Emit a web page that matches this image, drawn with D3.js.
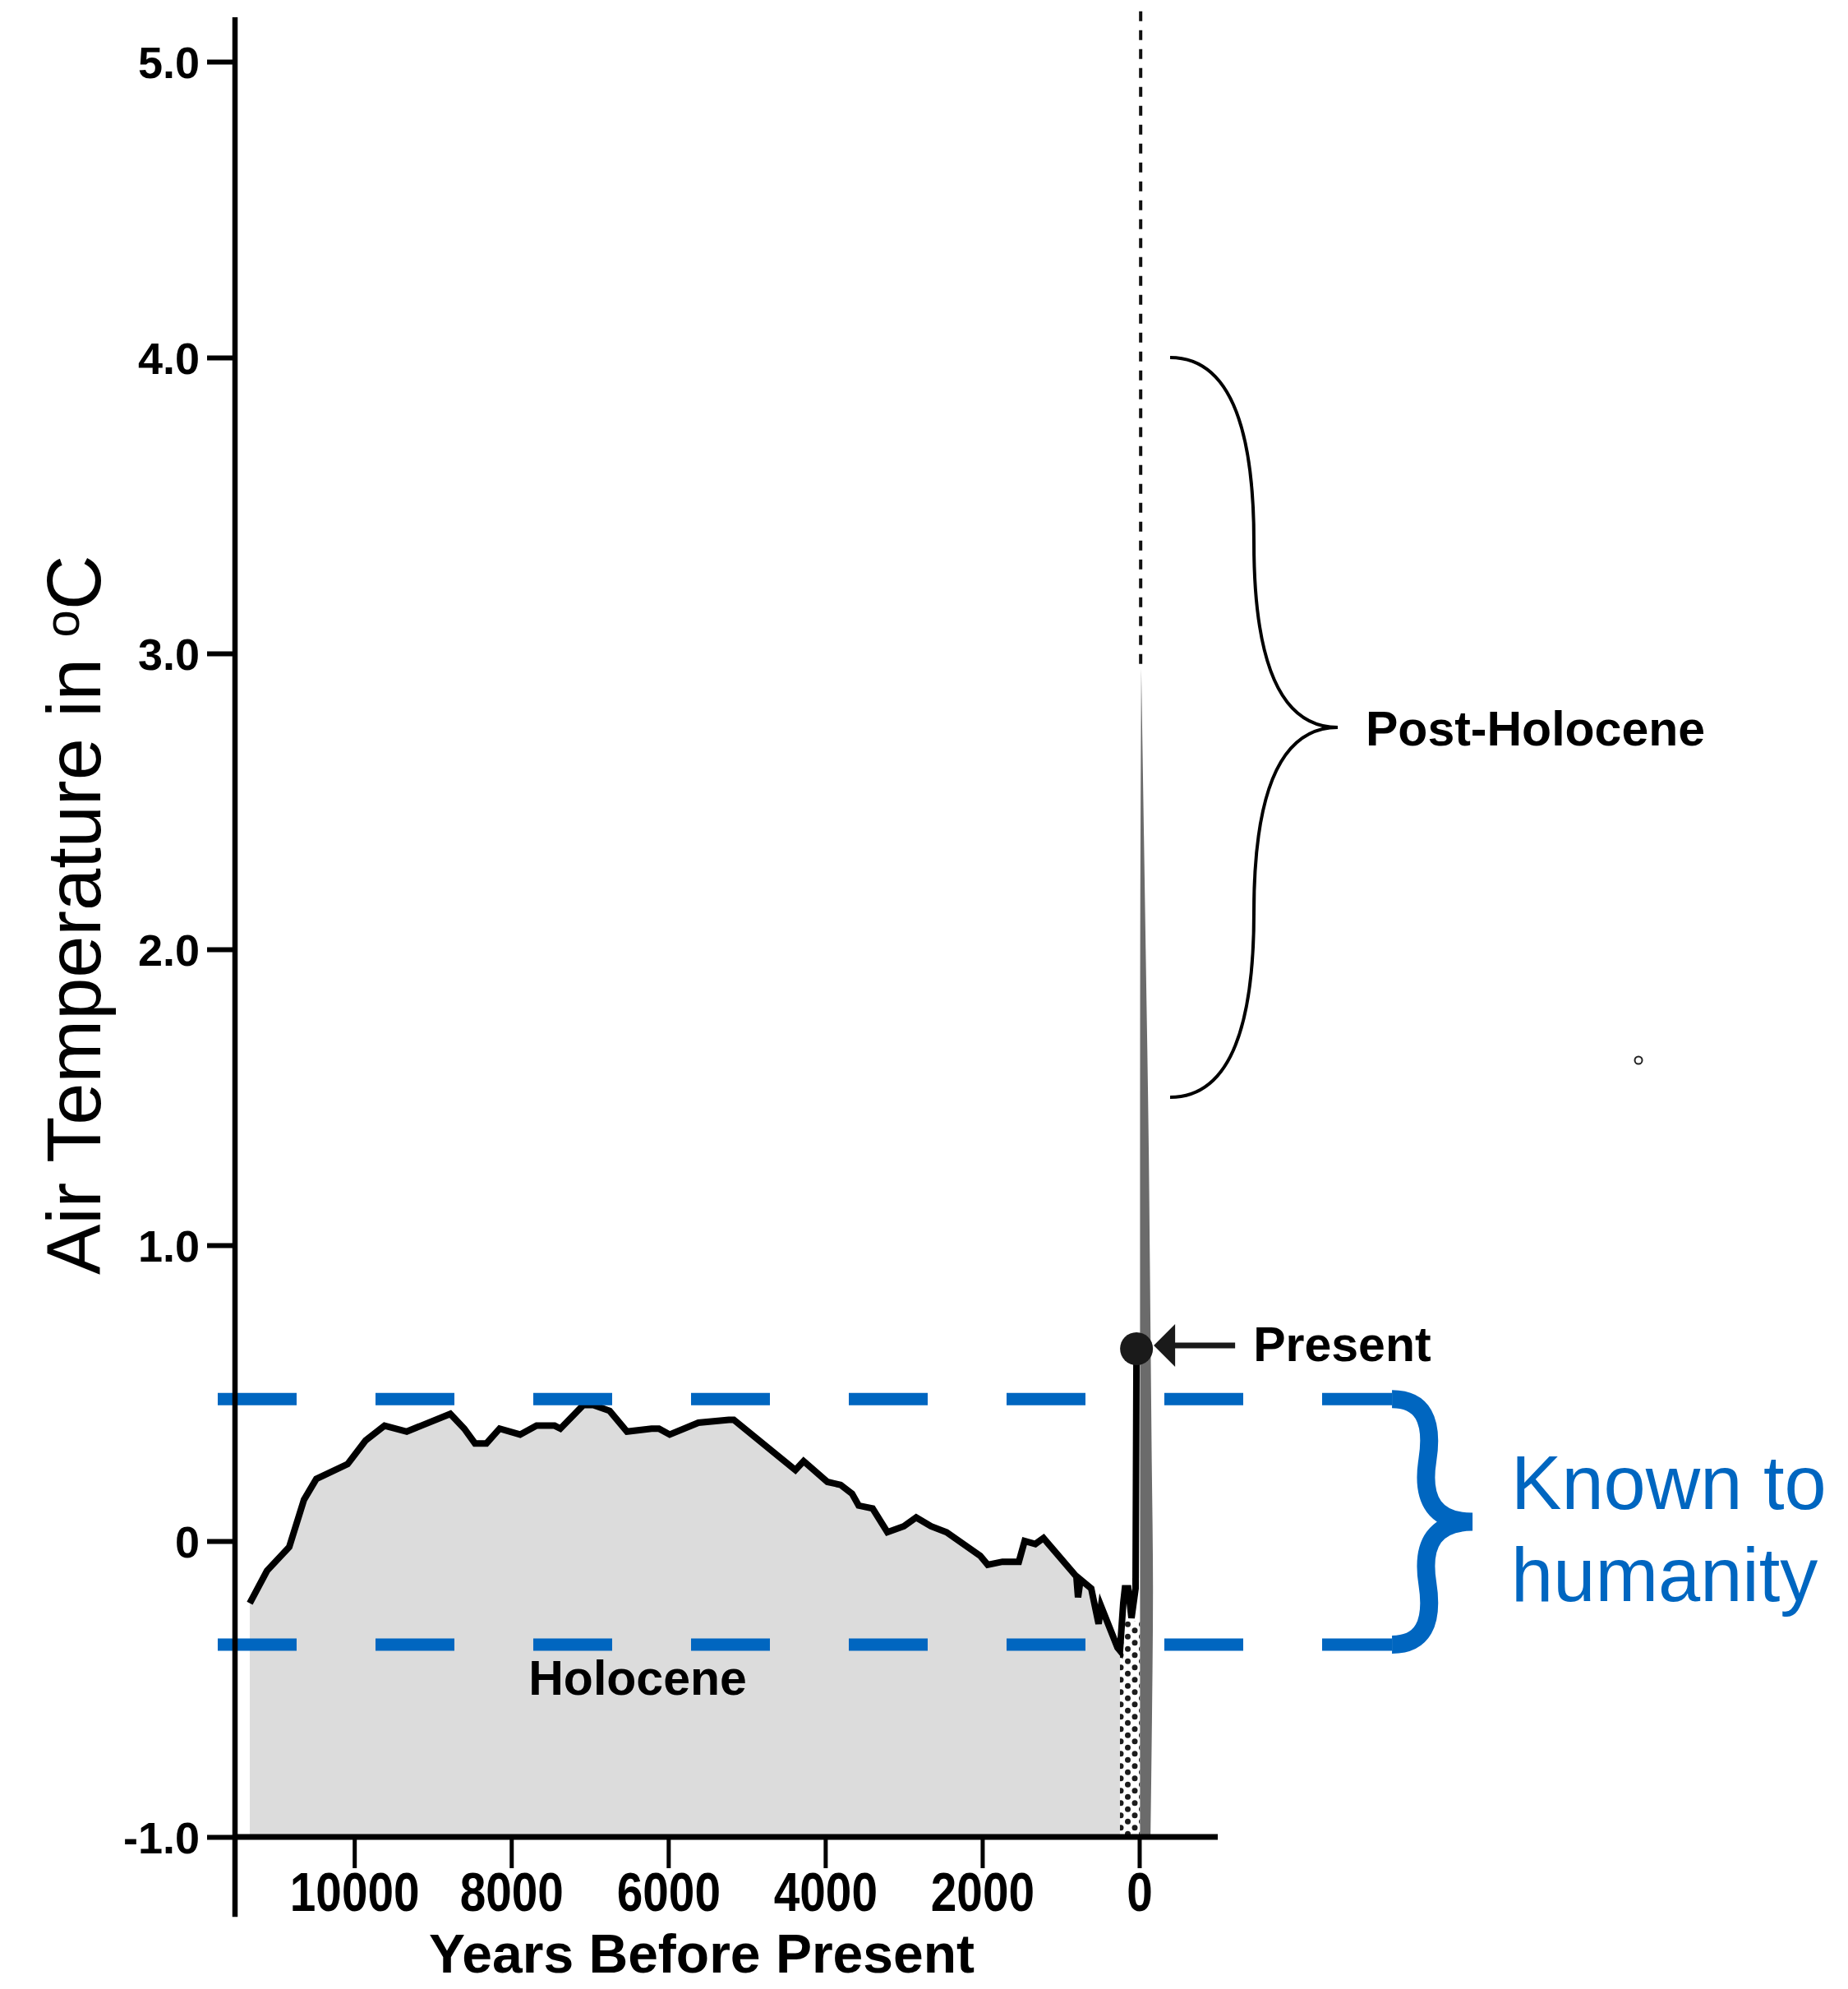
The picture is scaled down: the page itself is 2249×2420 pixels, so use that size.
<!DOCTYPE html>
<html>
<head>
<meta charset="utf-8">
<script src="https://cdn.jsdelivr.net/npm/d3@7"></script>
<style>
  html, body { margin: 0; padding: 0; background: #fff; }
  svg { display: block; font-family: "Liberation Sans", Arial, Helvetica, sans-serif; }
</style>
</head>
<body>
<svg id="chart" width="2249" height="2420"></svg>
<script>
// Reconstructed global air temperature, years before present
const years = [11332, 11112, 10829, 10641, 10484, 10086, 9856, 9615, 9332, 8777,
  8599, 8463, 8317, 8149, 7888, 7678, 7448, 7375, 7082, 6956,
  6747, 6527, 6213, 6119, 5982, 5616, 5229, 5166, 4381, 4276,
  3973, 3805, 3659, 3575, 3397, 3209, 2999, 2842, 2654, 2455,
  2026, 1931, 1743, 1534, 1460, 1324, 1220, 801, 780, 748,
  612, 518, 487, 277, 246, 204, 183, 141, 99, 47, 35];
const temps = [-0.21, -0.10, -0.02, 0.14, 0.21, 0.26, 0.34, 0.39, 0.37, 0.43,
  0.38, 0.33, 0.33, 0.38, 0.36, 0.39, 0.39, 0.38, 0.46, 0.46,
  0.44, 0.37, 0.38, 0.38, 0.36, 0.40, 0.41, 0.41, 0.24, 0.27,
  0.20, 0.19, 0.16, 0.12, 0.11, 0.03, 0.05, 0.08, 0.05, 0.03,
  -0.05, -0.08, -0.07, -0.07, 0.00, -0.01, 0.01, -0.12, -0.19, -0.13,
  -0.16, -0.28, -0.22, -0.36, -0.37, -0.21, -0.16, -0.16, -0.26, -0.16, 0.65];

// Instrumental-era part of the record is stippled instead of shaded
const stippleFromYear = 246;
const stippleCap = -0.27;

// Present-day value
const presentYear = 35;
const presentTemp = 0.65;

// Projected warming envelope (future = negative years)
const projTemps = [2.95, 2.0, 1.3, 1.0, 0.3, -0.16, -0.6, -1.0];
const projNear  = [-25, -12, -10, -10, -10, -10, -10, -10];
const projFar   = [-25, -82, -122, -133, -158, -175, -162, -143];
const projLineYear = -18;
const projLineTop = 5.17;

// Range of temperatures experienced by humanity
const bandValues = [0.48, -0.35];
const bandYears = [11740, -3220];

// Post-Holocene bracket range
const postRange = [1.5, 4.0];
const postYear = -393;

// Axis ticks
const xTicks = [10000, 8000, 6000, 4000, 2000, 0];
const xTickLabels = ["10000", "8000", "6000", "4000", "2000", "0"];
const yTicks = [5, 4, 3, 2, 1, 0, -1];
const yTickLabels = ["5.0", "4.0", "3.0", "2.0", "1.0", "0", "-1.0"];

const BLUE = "#0066c0";
const svg = d3.select("#chart");

const x = d3.scaleLinear().domain([11520, -1000]).range([286, 1482]);
const y = d3.scaleLinear().domain([-1, 5.15]).range([2235, 21]);
const baseY = y(-1);

const data = years.map((yr, i) => ({ year: yr, temp: temps[i] }));

// stipple pattern
const defs = svg.append("defs");
const pat = defs.append("pattern").attr("id", "stipple")
  .attr("patternUnits", "userSpaceOnUse").attr("width", 17).attr("height", 15);
pat.append("rect").attr("width", 17).attr("height", 15).attr("fill", "#fff");
pat.append("circle").attr("cx", 4).attr("cy", 3.75).attr("r", 3.5).attr("fill", "#1c1c1c");
pat.append("circle").attr("cx", 12.5).attr("cy", 11.25).attr("r", 3.5).attr("fill", "#1c1c1c");

// shaded Holocene area
const area = d3.area().x(d => x(d.year)).y0(baseY).y1(d => y(d.temp));
svg.append("path")
  .datum(data.filter(d => d.year >= stippleFromYear))
  .attr("d", area).attr("fill", "#dcdcdc");

// stippled recent area
const recent = data.filter(d => d.year <= stippleFromYear)
  .map(d => ({ year: d.year, temp: Math.min(d.temp, stippleCap) }));
recent.push({ year: projNear[projNear.length - 1], temp: stippleCap });
svg.append("path").datum(recent).attr("d", area).attr("fill", "url(#stipple)");

// projection envelope
const wedge = projTemps.map((t, i) => ({ t, near: projNear[i], far: projFar[i] }));
svg.append("path").datum(wedge)
  .attr("d", d3.area().y(d => y(d.t)).x0(d => x(d.near)).x1(d => x(d.far)).curve(d3.curveMonotoneY))
  .attr("fill", "#6b6b6b");

svg.append("line")
  .attr("x1", x(projLineYear)).attr("x2", x(projLineYear))
  .attr("y1", y(projLineTop)).attr("y2", y(projTemps[0]))
  .attr("stroke", "#111").attr("stroke-width", 4).attr("stroke-dasharray", "12,11");

// temperature line
svg.append("path").datum(data)
  .attr("d", d3.line().x(d => x(d.year)).y(d => y(d.temp)))
  .attr("fill", "none").attr("stroke", "#000").attr("stroke-width", 8)
  .attr("stroke-linejoin", "miter").attr("stroke-miterlimit", 4);

// band of temperatures known to humanity
bandValues.forEach(v => {
  svg.append("line")
    .attr("x1", x(bandYears[0])).attr("x2", x(bandYears[1]))
    .attr("y1", y(v)).attr("y2", y(v))
    .attr("stroke", BLUE).attr("stroke-width", 15).attr("stroke-dasharray", "96,96");
});

// curly brace path, pointing to the right of the segment direction
function curlyBrace(x1, y1, x2, y2, w, q) {
  let dx = x1 - x2, dy = y1 - y2;
  const len = Math.sqrt(dx * dx + dy * dy);
  dx /= len; dy /= len;
  const qx1 = x1 + q * w * dy, qy1 = y1 - q * w * dx;
  const qx2 = (x1 - .25 * len * dx) + (1 - q) * w * dy, qy2 = (y1 - .25 * len * dy) - (1 - q) * w * dx;
  const tx1 = (x1 - .5 * len * dx) + w * dy, ty1 = (y1 - .5 * len * dy) - w * dx;
  const qx3 = x2 + q * w * dy, qy3 = y2 - q * w * dx;
  const qx4 = (x1 - .75 * len * dx) + (1 - q) * w * dy, qy4 = (y1 - .75 * len * dy) - (1 - q) * w * dx;
  return `M${x1},${y1} Q${qx1},${qy1} ${qx2},${qy2} T${tx1},${ty1} M${x2},${y2} Q${qx3},${qy3} ${qx4},${qy4} T${tx1},${ty1}`;
}

const bx = x(bandYears[1]);
svg.append("path")
  .attr("d", curlyBrace(bx, y(bandValues[1]), bx, y(bandValues[0]), 98, 0.56))
  .attr("fill", "none").attr("stroke", BLUE).attr("stroke-width", 22);

const kt = svg.append("text").attr("fill", BLUE).attr("font-size", 92);
kt.append("tspan").attr("x", bx + 145).attr("y", y(bandValues[0]) + 134).text("Known to");
kt.append("tspan").attr("x", bx + 145).attr("dy", 112).text("humanity");

// Post-Holocene bracket
const px0 = x(postYear);
svg.append("path")
  .attr("d", curlyBrace(px0, y(postRange[0]), px0, y(postRange[1]), 204, 0.5))
  .attr("fill", "none").attr("stroke", "#000").attr("stroke-width", 4);
svg.append("text")
  .attr("x", px0 + 238).attr("y", y((postRange[0] + postRange[1]) / 2) + 22)
  .attr("font-size", 59).attr("font-weight", "bold").text("Post-Holocene");

// present marker
const pX = x(presentYear), pY = y(presentTemp);
svg.append("circle").attr("cx", pX).attr("cy", pY).attr("r", 20).attr("fill", "#1a1a1a");
const ax = pX + 21;
svg.append("path")
  .attr("d", `M${ax},${pY - 4} L${ax + 26},${pY - 30} L${ax + 26},${pY + 22} Z`)
  .attr("fill", "#1a1a1a");
svg.append("line").attr("x1", ax + 24).attr("x2", ax + 99)
  .attr("y1", pY - 4).attr("y2", pY - 4)
  .attr("stroke", "#1a1a1a").attr("stroke-width", 7);
svg.append("text").attr("x", ax + 121).attr("y", pY + 15)
  .attr("font-size", 59).attr("font-weight", "bold").text("Present");

// Holocene label
svg.append("text").attr("x", x(6390)).attr("y", y(-0.52))
  .attr("text-anchor", "middle").attr("font-size", 59).attr("font-weight", "bold")
  .text("Holocene");

// stray ring
svg.append("circle").attr("cx", x(-6360)).attr("cy", y(1.625)).attr("r", 4.5)
  .attr("fill", "none").attr("stroke", "#222").attr("stroke-width", 2);

// axes
const yAxisG = svg.append("g").attr("transform", `translate(${x.range()[0]},0)`)
  .call(d3.axisLeft(y).tickValues(yTicks).tickFormat((d, i) => yTickLabels[i])
    .tickSize(34).tickPadding(9));
yAxisG.select(".domain").remove();
yAxisG.selectAll(".tick line").attr("stroke", "#000").attr("stroke-width", 6);
yAxisG.selectAll(".tick text").attr("font-size", 54).attr("font-weight", "bold")
  .attr("fill", "#000").attr("dy", "0.37em")
  .attr("font-family", "\"Liberation Sans\", Arial, sans-serif");

const xAxisG = svg.append("g").attr("transform", `translate(0,${baseY})`)
  .call(d3.axisBottom(x).tickValues(xTicks).tickFormat((d, i) => xTickLabels[i])
    .tickSize(38).tickPadding(5));
xAxisG.select(".domain").remove();
xAxisG.selectAll(".tick line").attr("stroke", "#000").attr("stroke-width", 5);
xAxisG.selectAll(".tick text").attr("font-size", 66).attr("font-weight", "bold")
  .attr("fill", "#000").attr("transform", "scale(0.86,1)")
  .attr("font-family", "\"Liberation Sans\", Arial, sans-serif");

svg.append("line").attr("x1", x.range()[0]).attr("x2", x.range()[0])
  .attr("y1", y(5.15)).attr("y2", y(-1.27))
  .attr("stroke", "#000").attr("stroke-width", 6.5);
svg.append("line").attr("x1", x.range()[0]).attr("x2", x.range()[1])
  .attr("y1", baseY).attr("y2", baseY)
  .attr("stroke", "#000").attr("stroke-width", 7);

// axis titles
svg.append("text").attr("x", 854).attr("y", 2400)
  .attr("text-anchor", "middle").attr("font-size", 66).attr("font-weight", "bold")
  .text("Years Before Present");

const yt = svg.append("text").attr("transform", "translate(122,1551) rotate(-90)")
  .attr("font-size", 92);
yt.append("tspan").text("Air Temperature in ");
yt.append("tspan").attr("font-size", 60).attr("dy", -26).text("o");
yt.append("tspan").attr("dy", 26).text("C");
</script>
</body>
</html>
